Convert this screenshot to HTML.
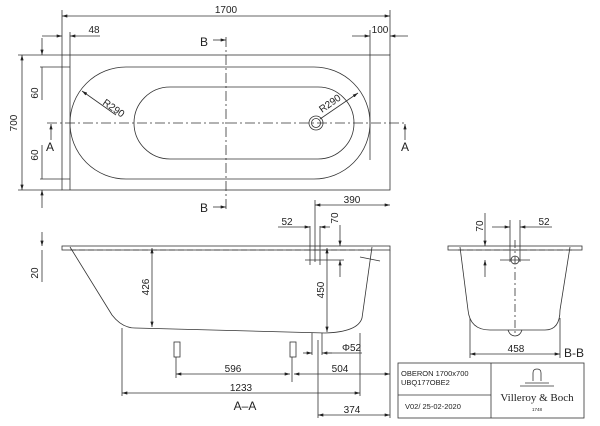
<!DOCTYPE html>
<html><head><meta charset="utf-8"><style>
html,body{margin:0;padding:0;background:#fff;width:600px;height:426px;overflow:hidden}
svg{display:block}
text{font-family:"Liberation Sans",sans-serif;fill:#222}
.d{font-family:"DejaVu Sans Condensed","DejaVu Sans",sans-serif;font-size:10px;font-weight:300}
</style></head><body>
<svg width="600" height="426" viewBox="0 0 600 426" xmlns="http://www.w3.org/2000/svg">
<defs><marker id="a" viewBox="0 0 10 6" refX="10" refY="3" markerWidth="7" markerHeight="4" orient="auto-start-reverse"><path d="M0,0L10,3L0,6z" fill="#222"/></marker></defs>
<g stroke="#333" stroke-width="0.8" fill="none">
<!-- TOP VIEW -->
<rect x="62" y="55" width="328" height="135"/>
<line x1="62" y1="10" x2="62" y2="55"/><line x1="390" y1="10" x2="390" y2="55"/>
<line x1="62" y1="16" x2="390" y2="16" marker-start="url(#a)" marker-end="url(#a)"/>
<line x1="70" y1="32" x2="70" y2="190"/>
<line x1="42" y1="36" x2="62" y2="36" marker-end="url(#a)"/><line x1="100" y1="36" x2="70" y2="36" marker-end="url(#a)"/>
<line x1="370" y1="30" x2="370" y2="160"/>
<line x1="352" y1="36" x2="370" y2="36" marker-end="url(#a)"/><line x1="408" y1="36" x2="390" y2="36" marker-end="url(#a)"/>
<rect x="70" y="67" width="300" height="112" rx="56" ry="56"/>
<rect x="134" y="87" width="220" height="72" rx="36" ry="36"/>
<line x1="47" y1="123" x2="405" y2="123" stroke-dasharray="10,3,2,3"/>
<line x1="226" y1="37" x2="226" y2="212" stroke-dasharray="10,3,2,3"/>
<circle cx="316" cy="123" r="7"/><circle cx="316" cy="123" r="4.5"/>
<line x1="82" y1="91" x2="116" y2="115" marker-start="url(#a)"/>
<line x1="320" y1="119" x2="358" y2="93" marker-end="url(#a)"/>
<line x1="18" y1="55" x2="62" y2="55"/><line x1="18" y1="190" x2="62" y2="190"/>
<line x1="22" y1="55" x2="22" y2="190" marker-start="url(#a)" marker-end="url(#a)"/>
<line x1="40" y1="67" x2="70" y2="67"/><line x1="40" y1="179" x2="70" y2="179"/>
<line x1="42" y1="38" x2="42" y2="55" marker-end="url(#a)"/><line x1="42" y1="67" x2="42" y2="100"/>
<line x1="42" y1="145" x2="42" y2="179"/><line x1="42" y1="208" x2="42" y2="190" marker-end="url(#a)"/>
<line x1="51" y1="140" x2="51" y2="124" marker-end="url(#a)"/><line x1="405" y1="140" x2="405" y2="124" marker-end="url(#a)"/>
<line x1="213" y1="40" x2="226" y2="40" marker-end="url(#a)"/><line x1="213" y1="207" x2="226" y2="207" marker-end="url(#a)"/>
<!-- SIDE VIEW A-A -->
<rect x="62" y="246" width="328" height="4"/>
<line x1="70" y1="250" x2="372" y2="250" stroke-dasharray="6,3"/>
<path d="M70,247 L112,315 Q122,328 135,328 L325,333 Q358,332 362,318 L372,247"/>
<line x1="152" y1="248" x2="152" y2="327" marker-start="url(#a)" marker-end="url(#a)"/>
<line x1="327" y1="248" x2="327" y2="332" marker-start="url(#a)" marker-end="url(#a)"/>
<line x1="42" y1="232" x2="42" y2="246" marker-end="url(#a)"/><line x1="42" y1="250" x2="42" y2="282"/>
<line x1="312" y1="333" x2="312" y2="355"/><line x1="322" y1="333" x2="322" y2="355"/>
<rect x="174" y="342" width="6" height="15"/><rect x="290" y="342" width="6" height="15"/>
<line x1="176" y1="357" x2="176" y2="378"/><line x1="292" y1="357" x2="292" y2="382"/>
<line x1="122" y1="328" x2="122" y2="396"/><line x1="360" y1="333" x2="360" y2="396"/>
<line x1="318" y1="340" x2="318" y2="418"/><line x1="390" y1="250" x2="390" y2="418"/>
<line x1="176" y1="374" x2="290" y2="374" marker-start="url(#a)" marker-end="url(#a)"/>
<line x1="294" y1="374" x2="390" y2="374" marker-start="url(#a)" marker-end="url(#a)"/>
<line x1="122" y1="393" x2="360" y2="393" marker-start="url(#a)" marker-end="url(#a)"/>
<line x1="318" y1="415" x2="390" y2="415" marker-start="url(#a)" marker-end="url(#a)"/>
<line x1="315" y1="200" x2="315" y2="262"/><line x1="315" y1="205" x2="390" y2="205" marker-start="url(#a)" marker-end="url(#a)"/>
<line x1="310" y1="226" x2="310" y2="265"/><line x1="320" y1="226" x2="320" y2="265"/>
<line x1="278" y1="227" x2="310" y2="227" marker-end="url(#a)"/><line x1="330" y1="227" x2="320" y2="227" marker-end="url(#a)"/>
<line x1="340" y1="225" x2="340" y2="246" marker-end="url(#a)"/><line x1="340" y1="277" x2="340" y2="260" marker-end="url(#a)"/>
<line x1="305" y1="260" x2="344" y2="260"/>
<line x1="303" y1="353" x2="312" y2="353" marker-end="url(#a)"/><line x1="332" y1="353" x2="322" y2="353" marker-end="url(#a)"/><line x1="322" y1="353" x2="362" y2="353"/>
<line x1="360" y1="257" x2="380" y2="261"/>
<!-- B-B -->
<rect x="448" y="246" width="134" height="4"/>
<line x1="458" y1="250" x2="572" y2="250" stroke-dasharray="6,3"/>
<path d="M460,247 L468,310 Q470,330 490,330 L545,330 Q560,330 560,310 L570,247"/>
<line x1="515" y1="240" x2="515" y2="335" stroke-dasharray="8,3,2,3"/>
<circle cx="515" cy="260" r="4"/>
<line x1="500" y1="260" x2="530" y2="260"/>
<line x1="485" y1="213" x2="485" y2="246" marker-end="url(#a)"/><line x1="485" y1="277" x2="485" y2="260" marker-end="url(#a)"/>
<line x1="510" y1="220" x2="510" y2="262"/><line x1="520" y1="220" x2="520" y2="262"/>
<line x1="492" y1="227" x2="510" y2="227" marker-end="url(#a)"/><line x1="552" y1="227" x2="520" y2="227" marker-end="url(#a)"/>
<line x1="470" y1="318" x2="470" y2="358"/><line x1="560" y1="318" x2="560" y2="358"/>
<line x1="470" y1="354" x2="560" y2="354" marker-start="url(#a)" marker-end="url(#a)"/>
<path d="M508,330 Q510,336 515,336 Q520,336 522,330"/>
<!-- title block -->
<rect x="398" y="363" width="186" height="55"/>
<line x1="491" y1="363" x2="491" y2="418"/><line x1="398" y1="395" x2="491" y2="395"/>
<path d="M533,381 L533,373 Q533,369 537,369 Q541,369 541,373 L541,381"/>
<line x1="525" y1="383" x2="549" y2="383"/><line x1="520" y1="386" x2="554" y2="386"/>
</g>
<g class="d">
<text x="226" y="13" text-anchor="middle">1700</text>
<text x="94" y="33" text-anchor="middle">48</text>
<text x="380" y="33" text-anchor="middle">100</text>
<text x="17" y="123" text-anchor="middle" transform="rotate(-90 17 123)">700</text>
<text x="38" y="93" text-anchor="middle" transform="rotate(-90 38 93)">60</text>
<text x="38" y="155" text-anchor="middle" transform="rotate(-90 38 155)">60</text>
<text x="102" y="104" transform="rotate(35 102 104)">R290</text>
<text x="322" y="113" transform="rotate(-35 322 113)">R290</text>
<text x="200" y="46" font-size="12">B</text><text x="200" y="212" font-size="12">B</text>
<text x="46" y="151" font-size="12">A</text><text x="401" y="151" font-size="12">A</text>
<text x="352" y="203" text-anchor="middle">390</text>
<text x="287" y="225" text-anchor="middle">52</text>
<text x="338" y="218" text-anchor="middle" transform="rotate(-90 338 218)">70</text>
<text x="38" y="273" text-anchor="middle" transform="rotate(-90 38 273)">20</text>
<text x="149" y="287" text-anchor="middle" transform="rotate(-90 149 287)">426</text>
<text x="324" y="290" text-anchor="middle" transform="rotate(-90 324 290)">450</text>
<text x="342" y="351">Φ52</text>
<text x="233" y="372" text-anchor="middle">596</text>
<text x="340" y="372" text-anchor="middle">504</text>
<text x="241" y="391" text-anchor="middle">1233</text>
<text x="245" y="410" text-anchor="middle" font-size="12">A–A</text>
<text x="352" y="413" text-anchor="middle">374</text>
<text x="483" y="226" text-anchor="middle" transform="rotate(-90 483 226)">70</text>
<text x="544" y="225" text-anchor="middle">52</text>
<text x="516" y="352" text-anchor="middle">458</text>
<text x="564" y="357" font-size="12">B-B</text>
</g>
<text x="401" y="376" font-size="7.5">OBERON 1700x700</text>
<text x="401" y="385" font-size="7.5">UBQ177OBE2</text>
<text x="405" y="409" font-size="7.5">V02/ 25-02-2020</text>
<text x="537" y="401" font-size="11" text-anchor="middle" style="font-family:'Liberation Serif',serif">Villeroy &amp; Boch</text>
<text x="537" y="411" font-size="4.5" text-anchor="middle">1748</text>
</svg>
</body></html>
